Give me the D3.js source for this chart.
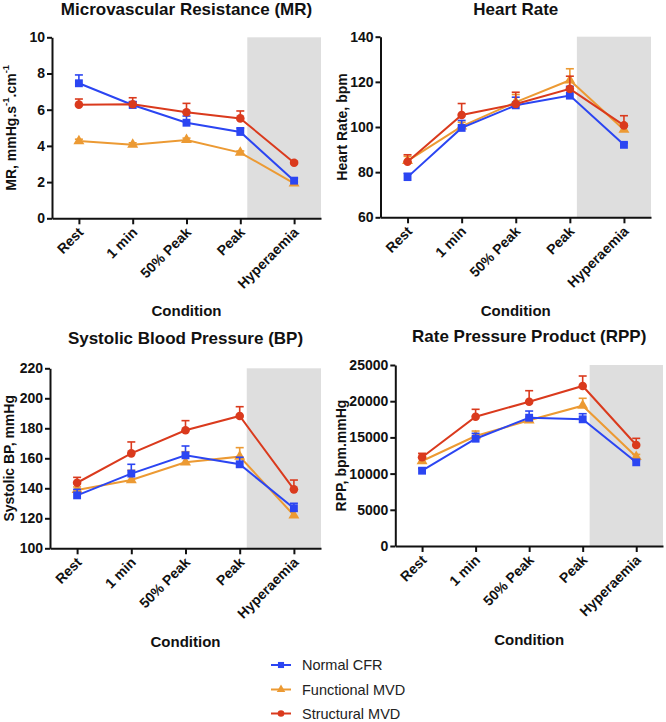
<!DOCTYPE html>
<html><head><meta charset="utf-8">
<script src="https://cdn.jsdelivr.net/npm/d3@7"></script>
<style>
body{margin:0;background:#fff;}
svg{display:block;font-family:"Liberation Sans",Arial,Helvetica,sans-serif;}
</style>
</head><body>
<svg id="chart" width="666" height="722"></svg>
<script>
// ---------------- DATA ----------------
const categories = ["Rest", "1 min", "50% Peak", "Peak", "Hyperaemia"];
const seriesNames = ["Normal CFR", "Functional MVD", "Structural MVD"];

// Microvascular resistance (mean, upward error)
const mrNormal = [7.46, 6.26, 5.28, 4.77, 2.08];
const mrNormalErr = [0.46, 0.19, 0.37, 0.23, 0.14];
const mrFunctional = [4.27, 4.07, 4.33, 3.63, 1.93];
const mrFunctionalErr = [0.10, 0.10, 0.10, 0.09, 0.07];
const mrStructural = [6.28, 6.30, 5.86, 5.52, 3.07];
const mrStructuralErr = [0.31, 0.36, 0.49, 0.41, 0.08];

// Heart rate
const hrNormal = [77.8, 99.6, 109.6, 113.9, 92.1];
const hrNormalErr = [1.7, 3.3, 3.6, 4.1, 0.8];
const hrFunctional = [85.0, 100.3, 111.0, 120.7, 98.8];
const hrFunctionalErr = [2.0, 1.8, 3.4, 5.1, 2.7];
const hrStructural = [84.6, 105.3, 110.2, 116.9, 100.7];
const hrStructuralErr = [3.1, 5.1, 5.2, 5.6, 4.3];

// Systolic blood pressure
const bpNormal = [135.3, 149.8, 162.0, 156.0, 126.7];
const bpNormalErr = [4.0, 6.2, 6.2, 4.7, 3.3];
const bpFunctional = [138.9, 145.5, 157.3, 161.1, 122.0];
const bpFunctionalErr = [2.0, 6.5, 7.1, 6.0, 3.0];
const bpStructural = [143.7, 163.3, 178.7, 188.2, 139.3];
const bpStructuralErr = [3.6, 7.6, 6.4, 6.2, 6.2];

// Rate pressure product
const rppNormal = [10400, 14820, 17720, 17500, 11560];
const rppNormalErr = [300, 740, 920, 770, 250];
const rppFunctional = [11740, 15190, 17360, 19380, 12330];
const rppFunctionalErr = [550, 690, 450, 1020, 320];
const rppStructural = [12250, 17860, 19930, 22100, 13950];
const rppStructuralErr = [550, 1020, 1520, 1380, 920];

// Tick labels
const mrTicks = [0, 2, 4, 6, 8, 10];
const hrTicks = [60, 80, 100, 120, 140];
const bpTicks = [100, 120, 140, 160, 180, 200, 220];
const rppTicks = [0, 5000, 10000, 15000, 20000, 25000];

// ---------------- STYLE / LAYOUT ----------------
const colors = ["#2b45f2", "#ec9a33", "#da3a1d"];
const symbols = [d3.symbolSquare, d3.symbolTriangle, d3.symbolCircle];
const symSizes = [62, 52, 58];
const drawOrder = [1, 0, 2];
const shadeStart = 3.13;

const panels = [
  {title: "Microvascular Resistance (MR)", ylabel: ["MR, mmHg.s", "-1", ".cm", "-1"],
   series: [[mrNormal, mrNormalErr], [mrFunctional, mrFunctionalErr], [mrStructural, mrStructuralErr]],
   ticks: mrTicks, x0: 52, x1: 321, yTop: 37.3, yBot: 218.3, titleY: 14.5, condY: 316, ylabX: 11},
  {title: "Heart Rate", ylabel: ["Heart Rate, bpm"],
   series: [[hrNormal, hrNormalErr], [hrFunctional, hrFunctionalErr], [hrStructural, hrStructuralErr]],
   ticks: hrTicks, x0: 380.5, x1: 651, yTop: 36.7, yBot: 217.3, titleY: 14.5, condY: 316, ylabX: 342},
  {title: "Systolic Blood Pressure (BP)", ylabel: ["Systolic BP, mmHg"],
   series: [[bpNormal, bpNormalErr], [bpFunctional, bpFunctionalErr], [bpStructural, bpStructuralErr]],
   ticks: bpTicks, x0: 50, x1: 321, yTop: 368.3, yBot: 548.3, titleY: 344, condY: 647, ylabX: 9},
  {title: "Rate Pressure Product (RPP)", ylabel: ["RPP, bpm.mmHg"],
   series: [[rppNormal, rppNormalErr], [rppFunctional, rppFunctionalErr], [rppStructural, rppStructuralErr]],
   ticks: rppTicks, x0: 395.3, x1: 663, yTop: 365, yBot: 546, titleY: 342, condY: 645, ylabX: 341}
];

const svg = d3.select("#chart");

panels.forEach(p => {
  const g = svg.append("g");
  const x = d3.scaleLinear().domain([-0.5, 4.5]).range([p.x0, p.x1]);
  const y = d3.scaleLinear().domain([p.ticks[0], p.ticks[p.ticks.length - 1]]).range([p.yBot, p.yTop]);

  // shaded hyperaemia region
  g.append("rect")
    .attr("x", x(shadeStart)).attr("y", y.range()[1])
    .attr("width", x(4.5) - x(shadeStart)).attr("height", y.range()[0] - y.range()[1])
    .attr("fill", "#dedede");

  // title
  const cx = (x(0) + x(4)) / 2;
  g.append("text").attr("x", cx).attr("y", p.titleY)
    .attr("text-anchor", "middle").attr("font-weight", "bold").attr("font-size", "17px")
    .attr("fill", "#111").text(p.title);

  // y axis
  const yAxis = g.append("g").attr("transform", `translate(${p.x0},0)`)
    .call(d3.axisLeft(y).tickValues(p.ticks).tickSize(5).tickSizeOuter(0).tickPadding(2).tickFormat(d3.format("d")));
  // x axis
  const xAxis = g.append("g").attr("transform", `translate(0,${p.yBot})`)
    .call(d3.axisBottom(x).tickValues([0, 1, 2, 3, 4]).tickSize(6).tickSizeOuter(0).tickFormat(i => categories[i]));

  [yAxis, xAxis].forEach(a => {
    a.select(".domain").attr("stroke", "#111").attr("stroke-width", 2);
    a.selectAll(".tick line").attr("stroke", "#111").attr("stroke-width", 2);
    a.selectAll("text").attr("font-family", "'Liberation Sans',Arial,sans-serif")
      .attr("font-weight", "bold").attr("font-size", "14px").attr("fill", "#111");
  });
  xAxis.selectAll(".tick text")
    .attr("text-anchor", "end").attr("dy", null).attr("y", null)
    .attr("transform", "translate(5,15) rotate(-45)");

  // y label
  const yl = g.append("text")
    .attr("transform", `translate(${p.ylabX},${(p.yTop + p.yBot) / 2}) rotate(-90)`)
    .attr("text-anchor", "middle").attr("dominant-baseline", "central")
    .attr("font-weight", "bold").attr("font-size", "14px").attr("fill", "#111");
  p.ylabel.forEach((t, i) => {
    const ts = yl.append("tspan").text(t);
    if (i % 2 === 1) ts.attr("baseline-shift", "super").attr("font-size", "9.5px");
  });

  // condition label
  g.append("text").attr("x", cx).attr("y", p.condY)
    .attr("text-anchor", "middle").attr("font-weight", "bold").attr("font-size", "15px")
    .attr("fill", "#111").text("Condition");

  // series
  const line = d3.line().x((d, i) => x(i)).y(d => y(d));
  drawOrder.forEach(s => {
    const [vals, errs] = p.series[s];
    const sg = g.append("g");
    // error bars
    vals.forEach((v, i) => {
      const top = y(v + errs[i]);
      sg.append("line").attr("x1", x(i)).attr("x2", x(i)).attr("y1", y(v)).attr("y2", top)
        .attr("stroke", colors[s]).attr("stroke-width", 1.6);
      sg.append("line").attr("x1", x(i) - 4).attr("x2", x(i) + 4).attr("y1", top).attr("y2", top)
        .attr("stroke", colors[s]).attr("stroke-width", 1.6);
    });
    sg.append("path").datum(vals).attr("d", line)
      .attr("fill", "none").attr("stroke", colors[s]).attr("stroke-width", 2);
    sg.selectAll("path.m").data(vals).enter().append("path").attr("class", "m")
      .attr("transform", (d, i) => `translate(${x(i)},${y(d)})`)
      .attr("d", d3.symbol().type(symbols[s]).size(symSizes[s]))
      .attr("fill", colors[s]);
  });
});

// legend
const legendY = [665, 689.5, 713.5];
seriesNames.forEach((n, s) => {
  const lg = svg.append("g").attr("transform", `translate(0,${legendY[s]})`);
  lg.append("line").attr("x1", 271).attr("x2", 291).attr("y1", 0).attr("y2", 0)
    .attr("stroke", colors[s]).attr("stroke-width", 2);
  lg.append("path").attr("transform", "translate(281,0)")
    .attr("d", d3.symbol().type(symbols[s]).size(symSizes[s] * 0.6)).attr("fill", colors[s]);
  lg.append("text").attr("x", 302).attr("y", 0).attr("dominant-baseline", "central")
    .attr("font-size", "14.5px").attr("fill", "#222").text(n);
});
</script>
</body></html>
